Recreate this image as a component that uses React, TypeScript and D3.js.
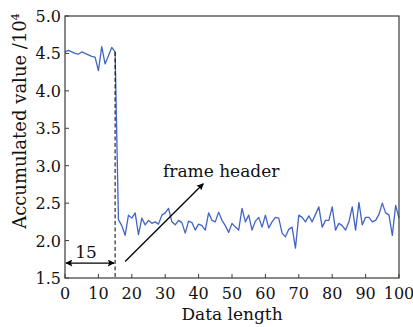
import React from "react";
import * as d3 from "d3";

const values: number[] = [
  4.52, 4.54, 4.52, 4.5, 4.49, 4.52, 4.5, 4.48, 4.46, 4.45,
  4.27, 4.59, 4.36, 4.47, 4.58, 4.52, 2.28, 2.2, 2.07, 2.34,
  2.3, 2.37, 2.08, 2.3, 2.21, 2.27, 2.23, 2.25, 2.22, 2.34,
  2.37, 2.43, 2.25, 2.21, 2.27, 2.24, 2.1, 2.26, 2.24, 2.14,
  2.22, 2.2, 2.14, 2.37, 2.27, 2.25, 2.38, 2.27, 2.2, 2.11,
  2.23, 2.18, 2.14, 2.43, 2.25, 2.34, 2.14, 2.26, 2.31, 2.18,
  2.34, 2.17, 2.25, 2.31, 2.3, 2.1, 2.05, 2.15, 2.18, 1.9,
  2.34, 2.31, 2.25, 2.33, 2.25, 2.35, 2.45, 2.18, 2.27, 2.27,
  2.45, 2.14, 2.23, 2.2, 2.14, 2.25, 2.45, 2.14, 2.51, 2.21,
  2.31, 2.31, 2.25, 2.27, 2.35, 2.5, 2.37, 2.34, 2.07, 2.47, 2.3,
];
const xTicks: number[] = [0, 10, 20, 30, 40, 50, 60, 70, 80, 90, 100];
const yTicks: number[] = [1.5, 2.0, 2.5, 3.0, 3.5, 4.0, 4.5, 5.0];
const headerIndex = 15;

export default function App() {
  const W = 413, H = 327;
  const left = 65, right = 399, top = 16, bottom = 278;
  const x = d3.scaleLinear().domain([0, 100]).range([left, right]);
  const y = d3.scaleLinear().domain([1.5, 5.0]).range([bottom, top]);
  const line = d3.line<number>().x((_, i) => x(i)).y((d) => y(d));
  const font = "'DejaVu Serif', serif";
  const axisColor = "#3a3a3a";
  const textColor = "#111";

  return (
    <svg width={W} height={H} style={{ position: "absolute", left: 0, top: 0, background: "#fff" }}>
      <defs>
        <marker id="ah" viewBox="0 0 10 10" refX="9" refY="5" markerWidth="9" markerHeight="7" orient="auto-start-reverse" markerUnits="userSpaceOnUse">
          <path d="M0,0 L10,5 L0,10 L2,5 z" fill="#000" />
        </marker>
      </defs>
      {/* data line */}
      <path d={line(values) || ""} fill="none" stroke="#4264c6" strokeWidth={1.3} strokeLinejoin="round" />
      {/* frame */}
      <rect x={left} y={top} width={right - left} height={bottom - top} fill="none" stroke={axisColor} strokeWidth={1.2} />
      {/* x ticks */}
      {xTicks.map((t) => (
        <g key={"x" + t}>
          <line x1={x(t)} x2={x(t)} y1={bottom} y2={bottom - 4} stroke={axisColor} strokeWidth={1} />
          <text x={x(t)} y={299} textAnchor="middle" fontFamily={font} fontSize={16} fill={textColor}>{t}</text>
        </g>
      ))}
      {/* y ticks */}
      {yTicks.map((t) => (
        <g key={"y" + t}>
          <line x1={left} x2={left + 4} y1={y(t)} y2={y(t)} stroke={axisColor} strokeWidth={1} />
          <text x={left - 4} y={y(t) + 6} textAnchor="end" fontFamily={font} fontSize={16} fill={textColor}>{t.toFixed(1)}</text>
        </g>
      ))}
      {/* axis titles */}
      <text x={232} y={320} textAnchor="middle" fontFamily={font} fontSize={17} fill={textColor}>Data length</text>
      <text transform={`translate(26,121) rotate(-90)`} textAnchor="middle" fontFamily={font} fontSize={18} fill={textColor}>
        Accumulated value /10<tspan fontSize={11} dy={-7}>4</tspan>
      </text>
      {/* dashed marker at frame header */}
      <line x1={x(headerIndex)} x2={x(headerIndex)} y1={y(values[headerIndex])} y2={bottom} stroke="#000" strokeWidth={1} strokeDasharray="4,2.5" />
      {/* double arrow 0..15 */}
      <line x1={x(0) + 1} x2={x(headerIndex) - 1} y1={y(1.7)} y2={y(1.7)} stroke="#000" strokeWidth={1.2} markerStart="url(#ah)" markerEnd="url(#ah)" />
      <text x={x(6.3)} y={258} textAnchor="middle" fontFamily={font} fontSize={17} fill={textColor}>15</text>
      {/* frame header arrow */}
      <line x1={x(18)} y1={y(1.72)} x2={x(41.4)} y2={y(2.76)} stroke="#000" strokeWidth={1.3} markerEnd="url(#ah)" />
      <text x={163} y={177} fontFamily={font} fontSize={17} fill={textColor}>frame header</text>
    </svg>
  );
}
